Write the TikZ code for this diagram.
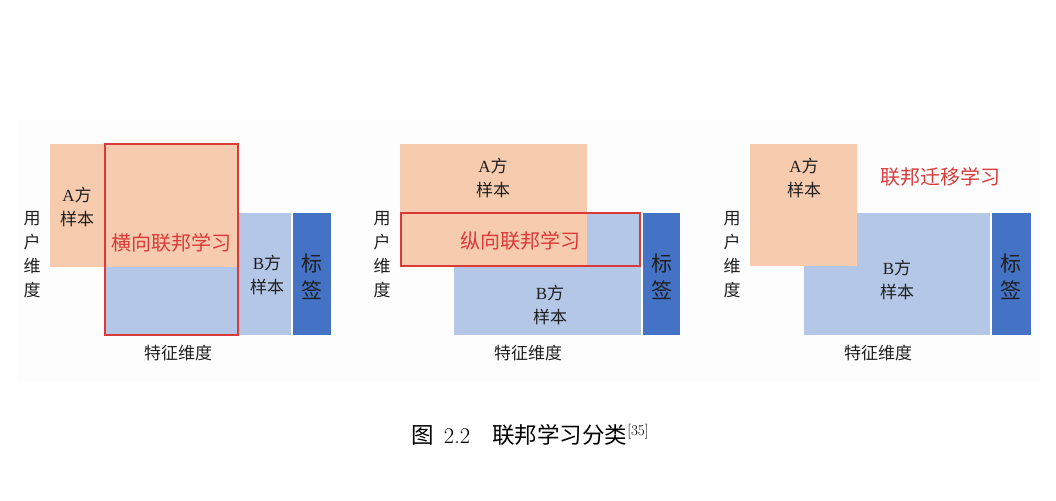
\documentclass[tikz,border=0pt]{standalone}
\usepackage{fontspec}
\newfontfamily\cjk{Noto Sans CJK SC}
\newfontfamily\lat{Liberation Serif}
\definecolor{peach}{HTML}{F7CBAE}
\definecolor{lblue}{HTML}{B4C7E7}
\definecolor{dblue}{HTML}{4472C4}
\definecolor{redc}{HTML}{DA3A3A}
\definecolor{bgc}{HTML}{FDFDFD}
\begin{document}
\begin{tikzpicture}[x=1pt,y=-1pt,
  txt/.style={font=\cjk\fontsize{17}{24}\selectfont, align=center, inner sep=0pt, text=black!88},
  lbl/.style={font=\cjk\fontsize{21}{27}\selectfont, align=center, inner sep=0pt, text=black!88},
  redtxt/.style={font=\cjk\fontsize{20}{24}\selectfont, inner sep=0pt, text=redc},
  redbox/.style={draw=redc, line width=1.5pt},
  capt/.style={font=\cjk\fontsize{22.5}{26}\selectfont, inner sep=0pt}]
\useasboundingbox (0,0) rectangle (1056,500);
\fill[white] (0,0) rectangle (1056,500);
\fill[bgc] (17,120) rectangle (1040,383);

% ---------- panel 1 ----------
\fill[lblue] (105,213) rectangle (291,335);
\fill[peach] (50,144) rectangle (239,267);
\fill[dblue] (293,213) rectangle (331,335);
\draw[redbox] (105,144) rectangle (238,335);
\node[txt] (a1) at (77,207) {{\lat A}方\\样本};
\node[redtxt] (h1) at (171,243) {横向联邦学习};
\node[txt] (b1) at (267,275) {{\lat B}方\\样本};
\node[lbl] (l1) at (312,277) {标\\签};
\node[txt] (u1) at (32,255) {用\\户\\维\\度};
\node[txt] (f1) at (178,353) {特征维度};

% ---------- panel 2 ----------
\fill[lblue] (454,213) rectangle (641,335);
\fill[peach] (400,144) rectangle (587,266);
\fill[dblue] (643,213) rectangle (680,335);
\draw[redbox] (401,213) rectangle (640,266);
\node[txt] (a2) at (493,178) {{\lat A}方\\样本};
\node[redtxt] (h2) at (520,241) {纵向联邦学习};
\node[txt] (b2) at (550,305) {{\lat B}方\\样本};
\node[lbl] (l2) at (662,277) {标\\签};
\node[txt] (u2) at (382,255) {用\\户\\维\\度};
\node[txt] (f2) at (528,353) {特征维度};

% ---------- panel 3 ----------
\fill[lblue] (804,213) rectangle (990,335);
\fill[peach] (750,144) rectangle (857,266);
\fill[dblue] (992,213) rectangle (1031,335);
\node[txt] (a3) at (804,178) {{\lat A}方\\样本};
\node[redtxt] (h3) at (940,177) {联邦迁移学习};
\node[txt] (b3) at (897,280) {{\lat B}方\\样本};
\node[lbl] (l3) at (1011,277) {标\\签};
\node[txt] (u3) at (732,255) {用\\户\\维\\度};
\node[txt] (f3) at (878,353) {特征维度};

% ---------- caption ----------
\node[capt] (cap) at (530,435) {图\hspace{10pt}{\rmfamily 2.2}\hspace{22pt}联邦学习分类\raisebox{8pt}{\rmfamily\fontsize{15}{17}\selectfont[35]}};
\end{tikzpicture}
\end{document}
